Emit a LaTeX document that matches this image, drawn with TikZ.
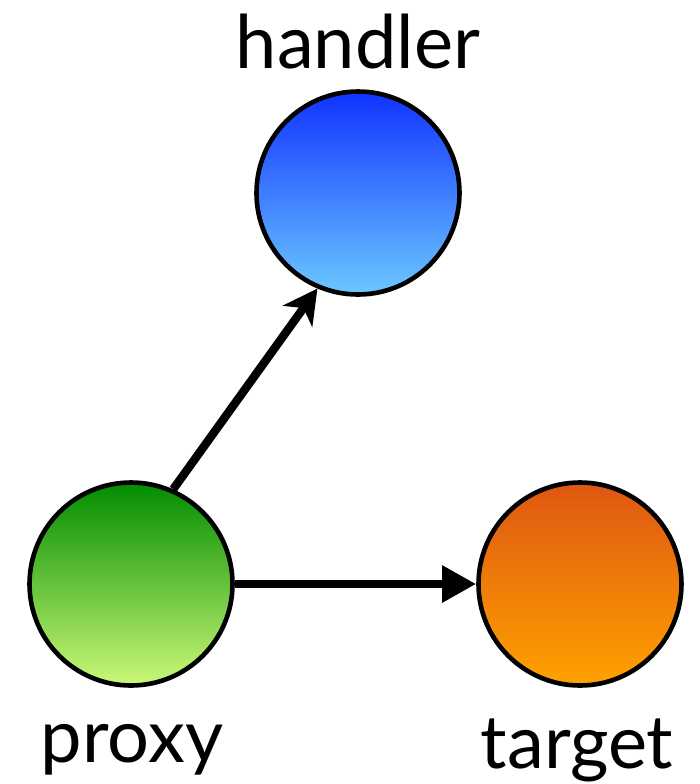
\documentclass[tikz,border=0pt]{standalone}
\usepackage{fontspec}
\setmainfont{Lato}
\usetikzlibrary{arrows.meta}
\definecolor{blueT}{HTML}{1033FF}
\definecolor{blueB}{HTML}{6CC8FF}
\definecolor{greenT}{HTML}{008C00}
\definecolor{greenB}{HTML}{CCF878}
\definecolor{orangeT}{HTML}{DE5612}
\definecolor{orangeB}{HTML}{FFA200}

\begin{document}
\begin{tikzpicture}[
 x=0.5pt,y=-0.5pt,
 c/.style={circle,draw=black,line width=2.3pt,minimum size=101.5pt,inner sep=0pt},
 l/.style={anchor=base,font=\fontsize{37}{42}\selectfont},
 a/.style={line width=4.2pt,draw=black}]
 \useasboundingbox (0,0) rectangle (700,784);
 \node[c,top color=blueT,bottom color=blueB] (h) at (358,193) {};
 \node[c,top color=greenT,bottom color=greenB] (p) at (131,584) {};
 \node[c,top color=orangeT,bottom color=orangeB] (t) at (580,584) {};
 \node[l] (hl) at (358,68) {handler};
 \node[l] (pl) at (132,762) {proxy};
 \node[l] (tl) at (577,768) {target};
 \draw[a,-{Stealth[length=17pt,width=18pt,inset=5pt]}] (p.66) -- (h.247);
 \draw[a,-{Triangle[length=17pt,width=17.5pt]}] (p) -- (t);
\end{tikzpicture}
\end{document}
